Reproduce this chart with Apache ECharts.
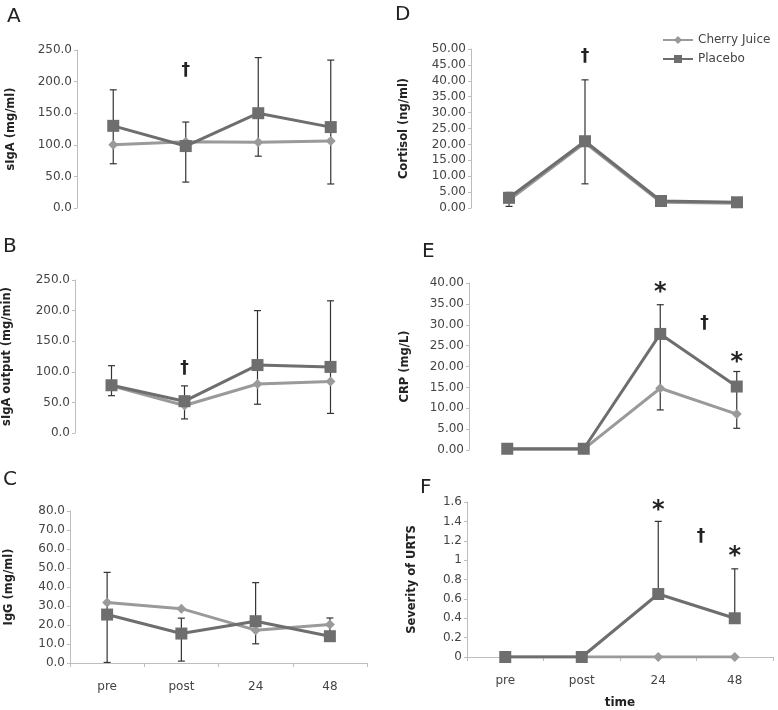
<!DOCTYPE html>
<html><head><meta charset="utf-8">
<script src="https://cdn.jsdelivr.net/npm/echarts@6/dist/echarts.min.js"></script>
<style>html,body{margin:0;padding:0;background:#fff}#c{width:778px;height:710px}</style>
</head><body><div id="c"></div>
<script>
// ---------- DATA ----------
const categories = ['pre', 'post', '24', '48'];

// A: sIgA (mg/ml)
const sigaCherry = [100, 105, 104, 106];
const sigaPlacebo = [130, 98, 150, 128];
const sigaErrLow = [70, 41, 82, 38];
const sigaErrHigh = [187, 136, 238, 234];
const sigaMarks = [[1, 217, '†']];

// B: sIgA output (mg/min)
const outCherry = [77, 45, 80, 84];
const outPlacebo = [78, 52, 111, 108];
const outErrLow = [61, 23, 47, 32];
const outErrHigh = [110, 77, 200, 216];
const outMarks = [[1, 105, '†']];

// C: IgG (mg/ml)
const iggCherry = [31.8, 28.6, 17.3, 20.3];
const iggPlacebo = [25.5, 15.5, 22.0, 14.1];
const iggErrLow = [0.3, 1.0, 10.1, 14.1];
const iggErrHigh = [47.7, 23.6, 42.3, 23.7];
const iggMarks = [];

// D: Cortisol (ng/ml)
const cortCherry = [2.5, 20.5, 1.8, 1.5];
const cortPlacebo = [3.2, 21.0, 2.2, 1.8];
const cortErrLow = [0.5, 7.6, 0.8, null];
const cortErrHigh = [4.9, 40.3, 2.2, null];
const cortMarks = [[1, 47.5, '†']];

// E: CRP (mg/L)
const crpCherry = [0.2, 0.2, 14.8, 8.6];
const crpPlacebo = [0.3, 0.3, 27.8, 15.2];
const crpErrLow = [null, null, 9.6, 5.2];
const crpErrHigh = [null, null, 34.8, 18.8];
const crpMarks = [[2, 37.6, '*'], [2.58, 30.4, '†'], [3, 20.9, '*']];

// F: Severity of URTS
const urtsCherry = [0, 0, 0, 0];
const urtsPlacebo = [0, 0, 0.65, 0.40];
const urtsErrLow = [null, null, 0.65, 0.40];
const urtsErrHigh = [null, null, 1.40, 0.91];
const urtsMarks = [[2, 1.51, '*'], [2.56, 1.24, '†'], [3, 1.03, '*']];

// ---------- PANELS ----------
const panels = [
  {letter:'A', name:'sIgA (mg/ml)', cherry:sigaCherry, placebo:sigaPlacebo, lo:sigaErrLow, hi:sigaErrHigh, marks:sigaMarks,
   max:250, interval:50, dec:1, grid:{left:77, top:50, width:290, height:158}, gap:60, showX:false, lpos:[7,7]},
  {letter:'B', name:'sIgA output (mg/min)', cherry:outCherry, placebo:outPlacebo, lo:outErrLow, hi:outErrHigh, marks:outMarks,
   max:250, interval:50, dec:1, grid:{left:73, top:280, width:294, height:153}, gap:62, showX:false, lpos:[3,237]},
  {letter:'C', name:'IgG (mg/ml)', cherry:iggCherry, placebo:iggPlacebo, lo:iggErrLow, hi:iggErrHigh, marks:iggMarks,
   max:80, interval:10, dec:1, grid:{left:70, top:511, width:297, height:152}, gap:55, showX:true, lpos:[3,470]},
  {letter:'D', name:'Cortisol (ng/ml)', cherry:cortCherry, placebo:cortPlacebo, lo:cortErrLow, hi:cortErrHigh, marks:cortMarks,
   max:50, interval:5, dec:2, grid:{left:471, top:49, width:304, height:159}, gap:61, showX:false, lpos:[395,5]},
  {letter:'E', name:'CRP (mg/L)', cherry:crpCherry, placebo:crpPlacebo, lo:crpErrLow, hi:crpErrHigh, marks:crpMarks,
   max:40, interval:5, dec:2, grid:{left:469, top:283, width:306, height:167}, gap:58, showX:false, lpos:[422,242]},
  {letter:'F', name:'Severity of URTS', cherry:urtsCherry, placebo:urtsPlacebo, lo:urtsErrLow, hi:urtsErrHigh, marks:urtsMarks,
   max:1.6, interval:0.2, dec:-1, grid:{left:467, top:502, width:306, height:161}, gap:49, showX:true, xName:'time', lpos:[420,478]}
];

const FONT = 'DejaVu Sans';
const AXIS_COLOR = '#bdbdbd';
const LABEL_COLOR = '#444';
const CHERRY_COLOR = '#9a9a9a';
const PLACEBO_COLOR = '#6e6e6e';
const ERR_COLOR = '#333';

function errRender(params, api) {
  const i = api.value(0), lo = api.value(1), hi = api.value(2);
  const p1 = api.coord([i, lo]), p2 = api.coord([i, hi]);
  const w = 3.5;
  const st = {stroke: ERR_COLOR, lineWidth: 1.2};
  return {type:'group', children:[
    {type:'line', shape:{x1:p1[0], y1:p1[1], x2:p2[0], y2:p2[1]}, style:st},
    {type:'line', shape:{x1:p1[0]-w, y1:p1[1], x2:p1[0]+w, y2:p1[1]}, style:st},
    {type:'line', shape:{x1:p2[0]-w, y1:p2[1], x2:p2[0]+w, y2:p2[1]}, style:st}
  ]};
}

function makeMarkRender(marks) {
  return function (params, api) {
    const m = marks[params.dataIndex];
    const x = m[0], y = m[1];
    const f = Math.floor(x), c = Math.ceil(x);
    const a = api.coord([f, y]), b = api.coord([c, y]);
    const px = a[0] + (b[0] - a[0]) * (x - f);
    const isStar = m[2] === '*';
    return {type:'text', x:px, y:a[1], style:{
      text:m[2], align:'center', verticalAlign:'middle',
      font: (isStar ? 'bold 24px ' : 'bold 17px ') + '"DejaVu Sans"', fill:'#222'
    }};
  };
}

const option = {
  animation:false,
  backgroundColor:'#fff',
  grid: panels.map(p => Object.assign({containLabel:false}, p.grid)),
  legend: {
    data:['Cherry Juice', 'Placebo'], orient:'vertical', left:657, top:29,
    itemWidth:30, itemHeight:10, itemGap:7,
    textStyle:{fontFamily:FONT, fontSize:12, color:LABEL_COLOR}
  },
  xAxis: panels.map((p, k) => ({
    type:'category', gridIndex:k, data:categories, boundaryGap:true,
    axisLine:{show:p.showX, lineStyle:{color:AXIS_COLOR, width:1}},
    axisTick:{show:p.showX, length:4, lineStyle:{color:AXIS_COLOR}},
    axisLabel:{show:p.showX, margin:18, fontFamily:FONT, fontSize:12, color:LABEL_COLOR},
    splitLine:{show:false},
    name:p.xName || '', nameLocation:'middle', nameGap:40,
    nameTextStyle:{fontFamily:FONT, fontSize:12, fontWeight:'bold', color:'#222'}
  })),
  yAxis: panels.map((p, k) => ({
    type:'value', gridIndex:k, min:0, max:p.max, interval:p.interval,
    axisLine:{show:true, lineStyle:{color:AXIS_COLOR, width:1}},
    axisTick:{show:true, length:3, lineStyle:{color:AXIS_COLOR}},
    splitLine:{show:false},
    axisLabel:{margin:5, fontFamily:FONT, fontSize:12, color:LABEL_COLOR,
      formatter: v => p.dec < 0 ? String(Math.round(v * 10) / 10) : v.toFixed(p.dec)},
    name:p.name, nameLocation:'middle', nameGap:p.gap, nameRotate:90,
    nameTextStyle:{fontFamily:FONT, fontSize:11.5, fontWeight:'bold', color:'#222'}
  })),
  series: [],
  graphic: panels.map(p => ({
    type:'text', left:p.lpos[0], top:p.lpos[1],
    style:{text:p.letter, font:'20px "DejaVu Sans"', fill:'#222'}
  }))
};

panels.forEach((p, k) => {
  const errData = [];
  categories.forEach((c, i) => { if (p.lo[i] != null) errData.push([i, p.lo[i], p.hi[i]]); });
  option.series.push({
    type:'custom', xAxisIndex:k, yAxisIndex:k, renderItem:errRender, data:errData, z:1, silent:true
  });
  option.series.push({
    name:'Cherry Juice', type:'line', xAxisIndex:k, yAxisIndex:k, data:p.cherry,
    symbol:'diamond', symbolSize:10, showAllSymbol:true,
    lineStyle:{color:CHERRY_COLOR, width:3}, itemStyle:{color:CHERRY_COLOR}, z:2
  });
  option.series.push({
    name:'Placebo', type:'line', xAxisIndex:k, yAxisIndex:k, data:p.placebo,
    symbol:'rect', symbolSize:12, showAllSymbol:true,
    lineStyle:{color:PLACEBO_COLOR, width:3}, itemStyle:{color:PLACEBO_COLOR}, z:3
  });
  if (p.marks.length) {
    option.series.push({
      type:'custom', xAxisIndex:k, yAxisIndex:k, renderItem:makeMarkRender(p.marks),
      data:p.marks.map(m => [m[0], m[1]]), z:4, silent:true, clip:false
    });
  }
});

const chart = echarts.init(document.getElementById('c'), null, {renderer:'canvas'});
chart.setOption(option);
</script>
</body></html>
